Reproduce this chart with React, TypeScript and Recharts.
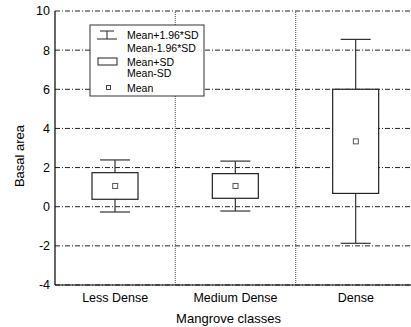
import {
  ComposedChart,
  Bar,
  Scatter,
  XAxis,
  YAxis,
  CartesianGrid,
  ReferenceLine,
  Label,
} from 'recharts';

const classes = ['Less Dense', 'Medium Dense', 'Dense'];
const means = [1.06, 1.06, 3.34];
const sdLow = [0.38, 0.43, 0.68];
const sdHigh = [1.74, 1.69, 6.0];
const ciLow = [-0.27, -0.22, -1.87];
const ciHigh = [2.39, 2.33, 8.55];
const yTicks = [-4, -2, 0, 2, 4, 6, 8, 10];
const separators = [1, 2];

const legendRows = ['Mean+1.96*SD', 'Mean-1.96*SD', 'Mean+SD', 'Mean-SD', 'Mean'];

const data = classes.map((name, i) => ({
  name,
  idx: i + 0.5,
  mean: means[i],
  whisker: [ciLow[i], ciHigh[i]],
  box: [sdLow[i], sdHigh[i]],
}));

const FONT = '"Liberation Sans", Arial, sans-serif';

const WhiskerShape = (props: any) => {
  const { x, y, width, height } = props;
  const top = Math.min(y, y + height);
  const bottom = Math.max(y, y + height);
  const cx = x + width / 2;
  return (
    <g stroke="#333" strokeWidth={1.2}>
      <line x1={cx} y1={top} x2={cx} y2={bottom} />
      <line x1={x} y1={top} x2={x + width} y2={top} />
      <line x1={x} y1={bottom} x2={x + width} y2={bottom} />
    </g>
  );
};

const BoxShape = (props: any) => {
  const { x, y, width, height } = props;
  const top = Math.min(y, y + height);
  const h = Math.abs(height);
  return <rect x={x} y={top} width={width} height={h} fill="#fff" stroke="#222" strokeWidth={1.2} />;
};

const MeanShape = (props: any) => {
  const { cx, cy } = props;
  return <rect x={cx - 2.5} y={cy - 2.5} width={5} height={5} fill="#fff" stroke="#555" strokeWidth={1} />;
};

function LegendBox() {
  const rowY = [35, 47.5, 61.5, 72.5, 88];
  return (
    <svg
      width={116}
      height={73}
      style={{ position: 'absolute', left: 89, top: 24, overflow: 'visible' }}
    >
      <rect x={1} y={1} width={114} height={71} fill="#fff" stroke="#333" strokeWidth={1} />
      <g stroke="#222" strokeWidth={1}>
        <line x1={11} y1={7} x2={25} y2={7} />
        <line x1={18} y1={7} x2={18} y2={15} />
        <line x1={8} y1={15} x2={28} y2={15} />
      </g>
      <rect x={9} y={34} width={19} height={7} fill="#fff" stroke="#222" strokeWidth={1} />
      <rect x={17.5} y={61.5} width={4} height={4} fill="#fff" stroke="#444" strokeWidth={1} />
      {legendRows.map((t, i) => (
        <text
          key={t}
          x={38}
          y={rowY[i] - 24}
          dominantBaseline="central"
          fontSize={10.5}
          fontFamily={FONT}
          fill="#000"
        >
          {t}
        </text>
      ))}
    </svg>
  );
}

export default function App() {
  return (
    <div
      style={{
        position: 'fixed',
        left: 0,
        top: 0,
        width: 411,
        height: 327,
        overflow: 'hidden',
        background: '#fff',
      }}
    >
      <ComposedChart
        width={418}
        height={327}
        data={data}
        margin={{ top: 11, right: 2, bottom: 0, left: 0 }}
      >
        <CartesianGrid
          vertical={false}
          stroke="#222"
          strokeDasharray="5 2 1 2"
        />
        <XAxis
          dataKey="name"
          height={42}
          tickLine={false}
          axisLine={{ stroke: '#000', strokeWidth: 1.2 }}
          tick={{ fontSize: 12.5, fill: '#000', fontFamily: FONT }}
          tickMargin={2}
        >
          <Label
            value="Mangrove classes"
            position="insideBottom"
            offset={4}
            dx={-7}
            style={{ fontSize: 13, fill: '#000', fontFamily: FONT }}
          />
        </XAxis>
        <XAxis xAxisId="w" dataKey="name" hide />
        <XAxis xAxisId="b" dataKey="name" hide />
        <XAxis
          xAxisId="num"
          type="number"
          dataKey="idx"
          domain={[0, 3]}
          allowDataOverflow
          hide
        />
        <YAxis
          domain={[-4, 10]}
          ticks={yTicks}
          width={55}
          tickLine={false}
          tickSize={3}
          tickMargin={2}
          axisLine={{ stroke: '#000', strokeWidth: 1.2 }}
          tick={{ fontSize: 12.5, fill: '#000', fontFamily: FONT }}
          interval={0}
        >
          <Label
            value="Basal area"
            angle={-90}
            position="insideLeft"
            offset={19}
            dy={8}
            textAnchor="middle"
            style={{ fontSize: 13, fill: '#000', fontFamily: FONT, textAnchor: 'middle' }}
          />
        </YAxis>
        {separators.map((s) => (
          <ReferenceLine
            key={s}
            xAxisId="num"
            x={s}
            stroke="#666"
            strokeDasharray="1 1"
            strokeWidth={1.2}
          />
        ))}
        <Bar
          xAxisId="w"
          dataKey="whisker"
          barSize={30}
          shape={WhiskerShape}
          isAnimationActive={false}
        />
        <Bar
          xAxisId="b"
          dataKey="box"
          barSize={46}
          shape={BoxShape}
          isAnimationActive={false}
        />
        <Scatter dataKey="mean" shape={MeanShape} isAnimationActive={false} />
      </ComposedChart>
      <LegendBox />
    </div>
  );
}
